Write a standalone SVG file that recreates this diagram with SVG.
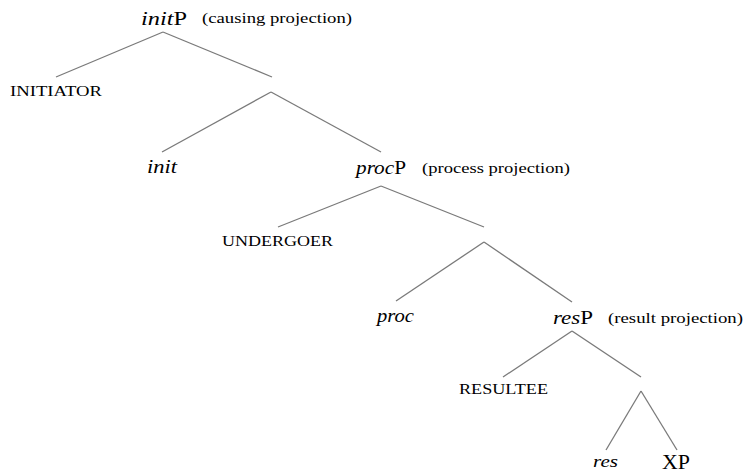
<svg xmlns="http://www.w3.org/2000/svg" width="746" height="474" viewBox="0 0 746 474">
<style>
text{font-family:"Liberation Serif","DejaVu Serif",serif;fill:#000}
.lab{font-size:19px}
.it{font-style:italic;font-family:"Liberation Serif","DejaVu Serif",serif}
.note{font-size:15px}
.sc{font-size:14px}
#edges line{stroke:#7a7a7a;stroke-width:1.3;fill:none}
</style>
<rect width="746" height="474" fill="#fff"/>
<g id="edges">
<line x1="163" y1="32" x2="56" y2="77"/>
<line x1="163" y1="32" x2="272" y2="77"/>
<line x1="271" y1="92" x2="162" y2="152"/>
<line x1="271" y1="92" x2="381" y2="152"/>
<line x1="381" y1="186" x2="278" y2="227"/>
<line x1="381" y1="186" x2="484" y2="227"/>
<line x1="484" y1="242" x2="396" y2="301"/>
<line x1="484" y1="242" x2="572" y2="302"/>
<line x1="572" y1="331" x2="503" y2="377"/>
<line x1="572" y1="331" x2="641" y2="377"/>
<line x1="641" y1="391" x2="606" y2="450"/>
<line x1="641" y1="391" x2="677" y2="450"/>
</g>
<g id="initP"><text class="lab" x="141" y="25" textLength="46" lengthAdjust="spacingAndGlyphs"><tspan class="it">init</tspan>P</text>
<text class="note" x="202" y="23" textLength="150" lengthAdjust="spacingAndGlyphs">(causing projection)</text></g>
<g id="initiator"><text class="sc" x="10" y="96" textLength="92" lengthAdjust="spacingAndGlyphs">INITIATOR</text></g>
<g id="init"><text class="lab it" x="147" y="173" textLength="30" lengthAdjust="spacingAndGlyphs">init</text></g>
<g id="procP"><text class="lab" x="356" y="174" textLength="50" lengthAdjust="spacingAndGlyphs"><tspan class="it">proc</tspan>P</text>
<text class="note" x="422" y="173" textLength="148" lengthAdjust="spacingAndGlyphs">(process projection)</text></g>
<g id="undergoer"><text class="sc" x="222" y="246" textLength="111" lengthAdjust="spacingAndGlyphs">UNDERGOER</text></g>
<g id="proc"><text class="lab it" x="377" y="322" textLength="37" lengthAdjust="spacingAndGlyphs">proc</text></g>
<g id="resP"><text class="lab" x="553" y="324" textLength="40" lengthAdjust="spacingAndGlyphs"><tspan class="it">res</tspan>P</text>
<text class="note" x="608" y="323" textLength="135" lengthAdjust="spacingAndGlyphs">(result projection)</text></g>
<g id="resultee"><text class="sc" x="459" y="394" textLength="89" lengthAdjust="spacingAndGlyphs">RESULTEE</text></g>
<g id="res"><text class="it" style="font-size:17px" x="593" y="467" textLength="25" lengthAdjust="spacingAndGlyphs">res</text></g>
<g id="XP"><text style="font-size:20px" x="662" y="469" textLength="28" lengthAdjust="spacingAndGlyphs">XP</text></g>
</svg>
